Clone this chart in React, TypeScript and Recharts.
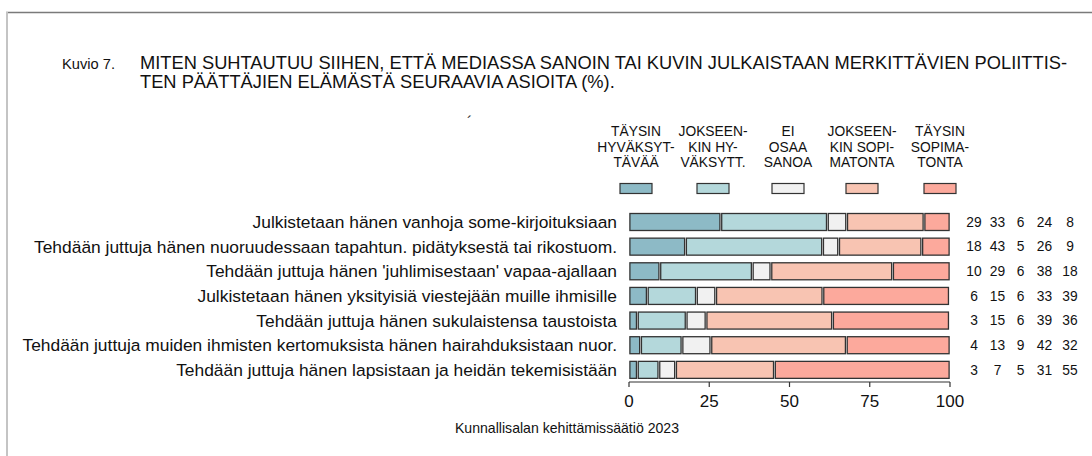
import React from "react";
import { BarChart, Bar, XAxis, YAxis, Legend } from "recharts";

const categories = [
  "Julkistetaan hänen vanhoja some-kirjoituksiaan",
  "Tehdään juttuja hänen nuoruudessaan tapahtun. pidätyksestä tai rikostuom.",
  "Tehdään juttuja hänen 'juhlimisestaan' vapaa-ajallaan",
  "Julkistetaan hänen yksityisiä viestejään muille ihmisille",
  "Tehdään juttuja hänen sukulaistensa taustoista",
  "Tehdään juttuja muiden ihmisten kertomuksista hänen hairahduksistaan nuor.",
  "Tehdään juttuja hänen lapsistaan ja heidän tekemisistään",
];

const taysinHyv = [28.6, 17.6, 9.6, 5.7, 2.6, 3.6, 2.6];
const jokseenkinHyv = [33.2, 42.7, 28.8, 15.3, 15.2, 12.9, 6.7];
const eiOsaa = [6.0, 5.0, 5.8, 6.0, 6.2, 9.0, 5.2];
const jokseenkinSop = [24.1, 25.9, 37.9, 33.4, 39.4, 42.2, 30.8];
const taysinSop = [8.1, 8.8, 17.9, 39.4, 36.4, 32.3, 54.7];

const seriesKeys = ["v1", "v2", "v3", "v4", "v5"];
const seriesNames = [
  "Täysin hyväksyttävää",
  "Jokseenkin hyväksyttävää",
  "Ei osaa sanoa",
  "Jokseenkin sopimatonta",
  "Täysin sopimatonta",
];
const legendLines = [
  ["TÄYSIN", "HYVÄKSYT-", "TÄVÄÄ"],
  ["JOKSEEN-", "KIN HY-", "VÄKSYTT."],
  ["EI", "OSAA", "SANOA"],
  ["JOKSEEN-", "KIN SOPI-", "MATONTA"],
  ["TÄYSIN", "SOPIMA-", "TONTA"],
];
const colors = ["#8dbac6", "#b4d8db", "#f1f1f1", "#f8c4b2", "#fca99c"];
const xTicks = [0, 25, 50, 75, 100];

const titlePrefix = "Kuvio 7.";
const titleLine1 =
  "MITEN SUHTAUTUU SIIHEN, ETTÄ MEDIASSA SANOIN TAI KUVIN JULKAISTAAN MERKITTÄVIEN POLIITTIS-";
const titleLine2 = "TEN PÄÄTTÄJIEN ELÄMÄSTÄ SEURAAVIA ASIOITA (%).";
const sourceText = "Kunnallisalan kehittämissäätiö 2023";

const data = categories.map((name, i) => ({
  name,
  v1: taysinHyv[i],
  v2: jokseenkinHyv[i],
  v3: eiOsaa[i],
  v4: jokseenkinSop[i],
  v5: taysinSop[i],
}));

const FONT = "'Liberation Sans', Arial, Helvetica, sans-serif";
const W = 1092;
const H = 456;

const Segment = (p: any) => {
  const w = Math.max((p.width || 0) - 1.8, 0);
  return (
    <rect
      x={p.x + 0.9}
      y={p.y}
      width={w}
      height={p.height}
      fill={p.fill}
      stroke="#333"
      strokeWidth={1.3}
    />
  );
};

const LeftTick = (p: any) => (
  <text
    x={p.x}
    y={p.y}
    dy="0.36em"
    textAnchor="end"
    fontFamily={FONT}
    fontSize={17.4}
    fill="#111"
  >
    {p.payload.value}
  </text>
);

const numOffsets = [24, 47.5, 70.5, 94.5, 120];
const RightTick = (p: any) => {
  const row = data.find((d) => d.name === p.payload.value) as any;
  if (!row) return null;
  return (
    <g>
      {seriesKeys.map((k, j) => (
        <text
          key={k}
          x={p.x + numOffsets[j]}
          y={p.y}
          dy="0.36em"
          textAnchor="middle"
          fontFamily={FONT}
          fontSize={13.8}
          fill="#111"
        >
          {Math.round(row[k])}
        </text>
      ))}
    </g>
  );
};

const legendCenters = [636, 713, 788, 862, 940];
const LegendContent = (props: any) => {
  const payload = props.payload || [];
  const present = new Set(payload.map((e: any) => e.dataKey));
  return (
    <svg width={W} height={200} style={{ display: "block" }}>
      {seriesKeys.map((key, i) => {
        if (payload.length && !present.has(key)) return null;
        const cx = legendCenters[i];
        return (
          <g key={key}>
            {legendLines[i].map((ln, k) => (
              <text
                key={k}
                x={cx}
                y={136 + k * 15.5}
                textAnchor="middle"
                fontFamily={FONT}
                fontSize={13.8}
                fill="#111"
              >
                {ln}
              </text>
            ))}
            <rect
              x={cx - 16}
              y={183.5}
              width={32}
              height={10}
              fill={colors[i]}
              stroke="#333"
              strokeWidth={1.2}
            />
          </g>
        );
      })}
    </svg>
  );
};

export default function App() {
  return (
    <div
      style={{
        position: "absolute",
        left: 0,
        top: 0,
        width: W,
        height: H,
        background: "#fff",
        overflow: "hidden",
      }}
    >
      <BarChart
        width={W}
        height={H}
        data={data}
        layout="vertical"
        margin={{ top: 209.5, right: 0, bottom: 44, left: 0 }}
        barSize={17}
      >
        <XAxis
          type="number"
          domain={[0, 100]}
          ticks={xTicks}
          allowDataOverflow
          height={30}
          tickSize={5}
          tickMargin={8}
          axisLine={{ stroke: "#333", strokeWidth: 1.2 }}
          tickLine={{ stroke: "#333", strokeWidth: 1.2 }}
          tick={{ fontFamily: FONT, fontSize: 17, fill: "#111" }}
        />
        <YAxis
          yAxisId="left"
          type="category"
          dataKey="name"
          width={629}
          axisLine={false}
          tickLine={false}
          tickSize={0}
          tickMargin={12}
          interval={0}
          tick={<LeftTick />}
        />
        <YAxis
          yAxisId="right"
          orientation="right"
          type="category"
          dataKey="name"
          width={142}
          axisLine={false}
          tickLine={false}
          tickSize={0}
          tickMargin={0}
          interval={0}
          tick={<RightTick />}
        />
        <Legend
          layout="horizontal"
          verticalAlign="middle"
          align="center"
          content={<LegendContent />}
          wrapperStyle={{ position: "absolute", left: 0, top: 0, width: W, height: 200 }}
        />
        {seriesKeys.map((k, i) => (
          <Bar
            key={k}
            dataKey={k}
            name={seriesNames[i]}
            stackId="a"
            yAxisId="left"
            fill={colors[i]}
            isAnimationActive={false}
            shape={<Segment />}
          />
        ))}
      </BarChart>
      <svg
        width={W}
        height={H}
        style={{ position: "absolute", left: 0, top: 0, pointerEvents: "none" }}
      >
        <line x1={6} y1={12.5} x2={W} y2={12.5} stroke="#7a7a7a" strokeWidth={1.5} />
        <line x1={7} y1={12} x2={7} y2={H} stroke="#c4c4c4" strokeWidth={2} />
        <text x={62} y={69} fontFamily={FONT} fontSize={14.7} fill="#111">
          {titlePrefix}
        </text>
        <text x={140} y={69} fontFamily={FONT} fontSize={18.3} fill="#111">
          {titleLine1}
        </text>
        <text x={140} y={88} fontFamily={FONT} fontSize={18.3} fill="#111">
          {titleLine2}
        </text>
        <text x={467} y={128} fontFamily={FONT} fontSize={16} fill="#333">
          ´
        </text>
        <text
          x={567}
          y={433}
          textAnchor="middle"
          fontFamily={FONT}
          fontSize={14.1}
          fill="#111"
        >
          {sourceText}
        </text>
      </svg>
    </div>
  );
}
